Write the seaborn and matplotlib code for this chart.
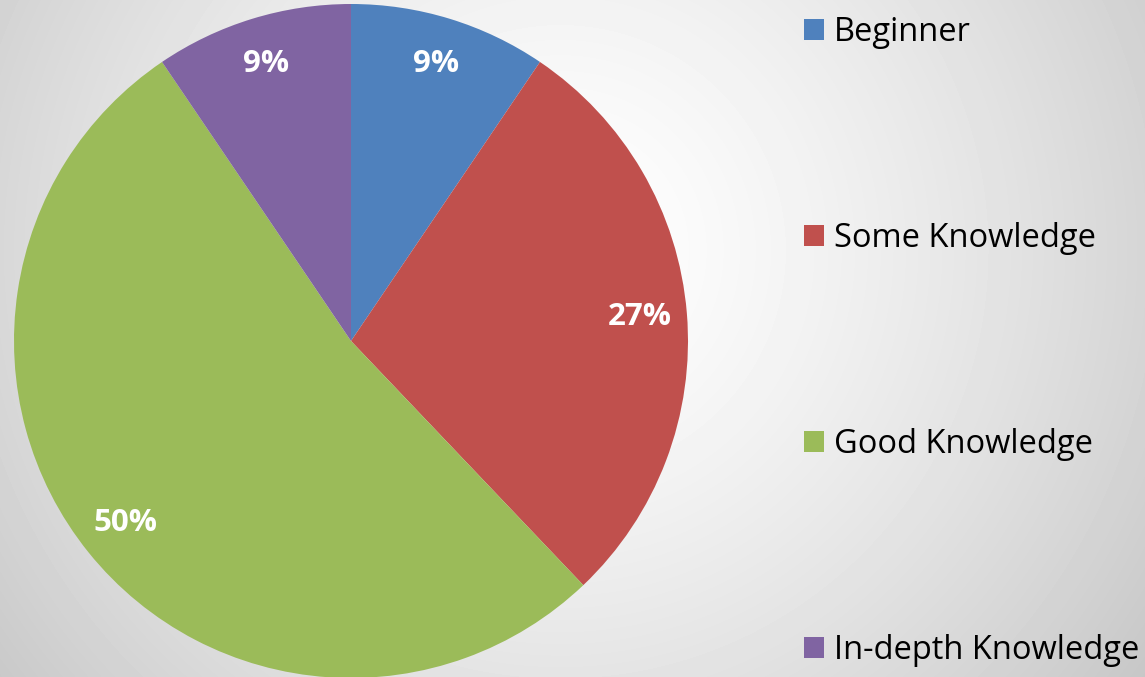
import numpy as np
import matplotlib
matplotlib.use("Agg")
import matplotlib.pyplot as plt
import seaborn as sns

# Dados do gráfico de pizza
categorias = ["Beginner", "Some Knowledge", "Good Knowledge", "In-depth Knowledge"]
valores = [9, 27, 50, 9]
rotulos_pct = ["9%", "27%", "50%", "9%"]
cores = sns.color_palette(["#4F81BD", "#C0504D", "#9BBB59", "#8064A2"])

sns.set_style("white")
plt.rcParams['font.family'] = ['Open Sans', 'DejaVu Sans']

W, H = 1145, 677
fig = plt.figure(figsize=(W / 100, H / 100), dpi=100)

# Fundo com gradiente radial (branco no centro, cinza nas bordas)
bg = fig.add_axes([0, 0, 1, 1])
yy, xx = np.mgrid[0:H, 0:W]
d = np.hypot(xx - 560, yy - 250)
v = 1 - 0.21 * (d / 700) ** 1.4
bg.imshow(v, cmap="gray", vmin=0, vmax=1, aspect="auto", extent=[0, W, H, 0])
bg.axis("off")

# Pizza
ax = fig.add_axes([14 / W, (H - 678) / H, 674 / W, 674 / H])
wedges, _ = ax.pie(valores, colors=cores, startangle=90, counterclock=False,
                   radius=1, wedgeprops=dict(linewidth=0))
for w, txt in zip(wedges, rotulos_pct):
    ang = np.deg2rad((w.theta1 + w.theta2) / 2)
    ax.text(0.86 * np.cos(ang), 0.86 * np.sin(ang), txt, ha="center", va="center",
            color="white", fontsize=22.5, fontweight="bold")
ax.set_xlim(-1, 1)
ax.set_ylim(-1, 1)
ax.set_aspect("equal")
ax.axis("off")

# Legenda à direita
leg = fig.legend(wedges, categorias, loc="upper left", bbox_to_anchor=(791 / W, 1 - 3 / H),
                 frameon=False, fontsize=23.5, handlelength=0.62, handleheight=0.62,
                 handletextpad=0.3, labelspacing=5.3, borderaxespad=0,
                 labelcolor="black")

plt.savefig("out.png", dpi=100)
plt.close()
